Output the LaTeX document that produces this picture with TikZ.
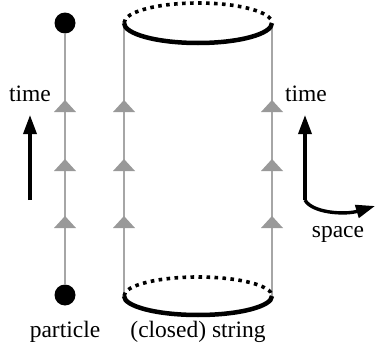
\documentclass[tikz,border=0pt]{standalone}
\usepackage{fontspec}
\setmainfont{Liberation Serif}
\usetikzlibrary{arrows.meta}
\begin{document}
\begin{tikzpicture}[x=1pt, y=-1pt]
  % Define line, marker and label styles
  \tikzstyle{worldline} = [draw=gray!70, line width=1.4pt]
  \tikzstyle{flowmark} = [fill=gray!80]
  \tikzstyle{pointmass} = [circle, fill=black, minimum size=21pt, inner sep=0pt]
  \tikzstyle{loopfront} = [line width=4.5pt]
  \tikzstyle{loopback} = [line width=3.6pt, dash pattern=on 3.6pt off 4.4pt]
  \tikzstyle{axisarrow} = [line width=3.4pt, -{Triangle[length=19pt,width=13pt]}]
  \tikzstyle{caption} = [font=\fontsize{23.5}{27}\selectfont]

  \useasboundingbox (0,0) rectangle (376,356);

  % particle
  \node [pointmass] (ptop) at (65,23) {};
  \node [pointmass] (pbot) at (65,295) {};
  \draw [worldline] (pbot) -- (ptop);

  % closed string
  \coordinate (stl) at (124,23);
  \coordinate (str) at (272,23);
  \coordinate (sbl) at (124,296);
  \coordinate (sbr) at (272,296);
  \draw [worldline] (sbl) -- (stl);
  \draw [worldline] (sbr) -- (str);
  \draw [loopback] (stl) arc (180:360:74 and 20);
  \draw [loopfront] (str) arc (0:180:74 and 20);
  \draw [loopback] (sbl) arc (180:360:74 and 19);
  \draw [loopfront] (sbr) arc (0:180:74 and 19);

  % direction marks
  \foreach \x in {65,124,272}
    \foreach \y in {106,165,222}
      \fill [flowmark] (\x-11,\y+6) -- (\x,\y-6) -- (\x+11,\y+6) -- cycle;

  % time and space axes
  \coordinate (lbase) at (30,200);
  \coordinate (ltip) at (30,115);
  \draw [axisarrow] (lbase) -- (ltip);
  \coordinate (corner) at (305,200);
  \coordinate (rtip) at (305,115);
  \coordinate (stip) at (375,206);
  \draw [axisarrow] (corner) -- (rtip);
  \draw [axisarrow] (corner) .. controls (312,213) and (345,215) .. (stip);

  % labels
  \node [caption] (ltime) at (30,94) {time};
  \node [caption] (rtime) at (306,94) {time};
  \node [caption] (space) at (338,234) {space};
  \node [caption] (plabel) at (65,332) {particle};
  \node [caption] (slabel) at (198,332) {(closed) string};
\end{tikzpicture}
\end{document}
